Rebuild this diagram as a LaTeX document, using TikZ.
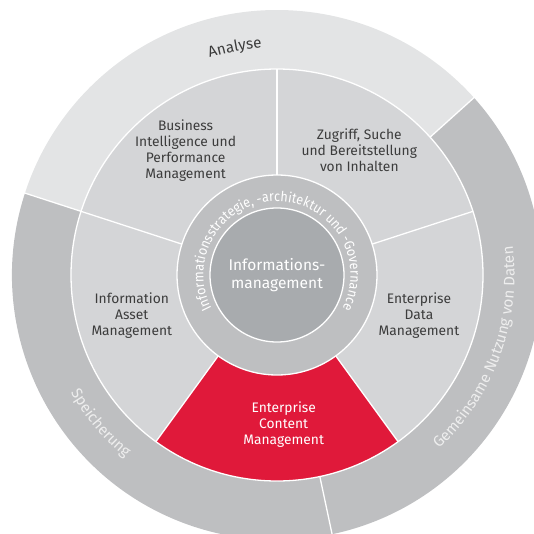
\documentclass[tikz,border=0pt]{standalone}
\usepackage{fontspec}
\setmainfont{Fira Sans}
\newfontfamily\ringfont[FakeStretch=0.9]{Fira Sans}
\usetikzlibrary{decorations.text}
\definecolor{outerlight}{HTML}{E3E4E5}
\definecolor{outerdark}{HTML}{BEBFC1}
\definecolor{seg}{HTML}{D4D5D7}
\definecolor{ringgray}{HTML}{BEBFC1}
\definecolor{coregray}{HTML}{A8ABAE}
\definecolor{ecmred}{HTML}{E0193A}
\definecolor{txt}{HTML}{3C3C3C}
\definecolor{lighttxt}{HTML}{EEEEEE}
\newcommand{\annsector}[4]{(#1:#4) arc[start angle=#1,end angle=#2,radius=#4] -- (#2:#3) arc[start angle=#2,end angle=#1,radius=#3] -- cycle}
\begin{document}
\begin{tikzpicture}[x=1pt,y=1pt,
  sep/.style={draw=white,line width=1.3pt},
  lbl/.style={text=txt,align=center,inner sep=0pt,font=\fontsize{13.8}{16}\selectfont},
  wlbl/.style={text=white,align=center,inner sep=0pt,font=\fontsize{13.8}{16}\selectfont}]
\useasboundingbox (-277,-258) rectangle (257,275);
% outer ring
\fill[outerlight] \annsector{42}{162}{206}{265};
\fill[outerdark] \annsector{162}{282}{206}{265};
\fill[outerdark] \annsector{282}{402}{206}{265};
\foreach \a in {42,162,282} \draw[sep] (\a:205) -- (\a:268);
% segments
\fill[seg] \annsector{18}{90}{100}{206};
\fill[seg] \annsector{90}{162}{100}{206};
\fill[seg] \annsector{162}{234}{100}{206};
\fill[ecmred] \annsector{234}{306}{100}{206};
\fill[seg] \annsector{306}{378}{100}{206};
\foreach \a in {18,90,162,234,306} \draw[sep] (\a:100) -- (\a:206);
\draw[sep] (0,0) circle[radius=206];
% strategy ring and core
\fill[ringgray] (0,0) circle[radius=100];
\draw[sep] (0,0) circle[radius=100];
\fill[coregray] (0,0) circle[radius=67];
\draw[sep] (0,0) circle[radius=67];
% labels
\node[lbl] (bi) at (-91.4,124.5) {Business\\Intelligence und\\Performance\\Management};
\node[lbl] (zug) at (82.3,124.5) {Zugriff, Suche\\und Bereitstellung\\von Inhalten};
\node[lbl] (iam) at (-145.2,-40.7) {Information\\Asset\\Management};
\node[lbl] (edm) at (142,-40.7) {Enterprise\\Data\\Management};
\node[wlbl] (ecm) at (6.7,-149.8) {Enterprise\\Content\\Management};
\node[text=white,align=center,inner sep=0pt,font=\fontsize{15.5}{17.4}\selectfont] (core) at (0,0) {Informations-\\management};
% curved texts
\path[decorate,decoration={text along path,text={|\ringfont\fontsize{14}{16}\selectfont|Informationsstrategie, -architektur und -Governance},text color=white,text align=center}] (210:73.5) arc[start angle=210,end angle=-30,radius=73.5];
\path[decorate,decoration={text along path,text={|\fontsize{15.2}{17}\selectfont|Analyse},text color=txt,text align=center}] (140.5:227.5) arc[start angle=140.5,end angle=60.5,radius=227.5];
\path[decorate,decoration={text along path,text={|\fontsize{15.2}{17}\selectfont|Speicherung},text color=lighttxt,text align=center}] (180:237.5) arc[start angle=180,end angle=260,radius=237.5];
\path[decorate,decoration={text along path,text={|\fontsize{15.2}{17}\selectfont|Gemeinsame Nutzung von Daten},text color=lighttxt,text align=center}] (290:237.5) arc[start angle=290,end angle=390,radius=237.5];
\end{tikzpicture}
\end{document}
